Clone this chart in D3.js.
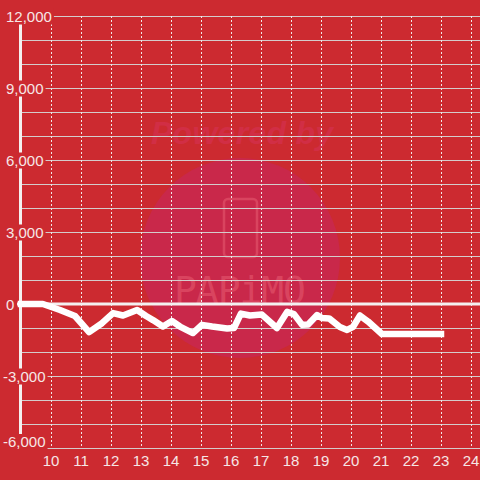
<!DOCTYPE html>
<html>
  <head>
    <meta charset="utf-8">
    <title>差枚数グラフ</title>
    <script src="https://d3js.org/d3.v7.min.js"></script>
    <style>
      html, body { margin: 0; padding: 0; background: #cc2a30; }
      svg { display: block; }
    </style>
  </head>
  <body>
    <div id="chart"></div>
    <script>
      // time of day (decimal hours) and running balance
      const hours = [9.0, 9.73, 10.3, 10.8, 11.27, 11.7, 12.07, 12.4, 12.87, 13.17, 13.4, 13.73,
        14.03, 14.3, 14.73, 15.03, 15.37, 15.87, 16.1, 16.33, 16.63, 17.03, 17.53, 17.87,
        18.1, 18.37, 18.57, 18.87, 19.03, 19.27, 19.63, 19.87, 20.07, 20.3, 20.57, 21.03, 23.0];
      const values = [0, 0, -250, -500, -1170, -800, -380, -480, -250, -500, -670, -940,
        -710, -940, -1210, -870, -940, -1020, -1000, -400, -480, -440, -1000, -330,
        -420, -870, -850, -460, -580, -600, -960, -1080, -950, -480, -730, -1250, -1250];
      const yTicks = [12000, 9000, 6000, 3000, 0, -3000, -6000];
      const yGrid = d3.range(-6000, 12001, 1000);
      const xTicks = d3.range(10, 25);

      const width = 480, height = 480;
      const bg = "#cc2a30";
      const textColor = "#f6e6e6";

      const svg = d3.select("#chart").append("svg")
        .attr("width", width)
        .attr("height", height);

      const x = d3.scaleLinear().domain([9, 24.3]).range([21, 480]);
      const y = d3.scaleLinear().domain([-6000, 12000]).range([448, 16]);

      svg.append("rect").attr("width", width).attr("height", height).attr("fill", bg);

      // watermark
      const wm = svg.append("g");
      wm.append("text")
        .attr("x", 242).attr("y", 144)
        .attr("text-anchor", "middle")
        .attr("font-family", "Liberation Sans, Arial, sans-serif")
        .attr("font-size", 32).attr("font-weight", "bold").attr("font-style", "italic")
        .attr("textLength", 182)
        .attr("fill", "#d6325a").attr("opacity", 0.5)
        .text("Powered by");
      wm.append("circle")
        .attr("cx", 240).attr("cy", 258).attr("r", 100)
        .attr("fill", "#c9284a");
      wm.append("rect")
        .attr("x", 224).attr("y", 199).attr("width", 33).attr("height", 58).attr("rx", 4)
        .attr("fill", "none").attr("stroke", "#d9445f").attr("stroke-width", 2.5);
      wm.append("text")
        .attr("x", 240).attr("y", 303)
        .attr("text-anchor", "middle")
        .attr("font-family", "DejaVu Sans Mono, monospace")
        .attr("font-size", 38)
        .attr("textLength", 132)
        .attr("fill", "#d9445f")
        .text("PAPiMO");

      // horizontal grid
      svg.append("g").selectAll("line")
        .data(yGrid)
        .join("line")
          .attr("x1", 21).attr("x2", width)
          .attr("y1", d => y(d) + 0.5).attr("y2", d => y(d) + 0.5)
          .attr("stroke", "#d4cccc").attr("stroke-width", 1);

      // vertical dashed grid
      svg.append("g").selectAll("line")
        .data(xTicks)
        .join("line")
          .attr("x1", d => x(d) + 0.5).attr("x2", d => x(d) + 0.5)
          .attr("y1", y(12000)).attr("y2", y(-6000))
          .attr("stroke", "#f0e8e8").attr("stroke-width", 1)
          .attr("stroke-dasharray", "2,2");

      // y axis line and zero line
      svg.append("line")
        .attr("x1", 20.5).attr("x2", 20.5)
        .attr("y1", y(12000)).attr("y2", y(-6000))
        .attr("stroke", "#f4f0f0").attr("stroke-width", 3);
      svg.append("line")
        .attr("x1", 17).attr("x2", width)
        .attr("y1", y(0)).attr("y2", y(0))
        .attr("stroke", "#f4f0f0").attr("stroke-width", 3);

      // y labels with background boxes (bottom one kept inside the plot)
      const yl = svg.append("g").selectAll("g")
        .data(yTicks)
        .join("g");
      yl.append("text")
        .attr("x", d => d < 0 ? 3 : 6)
        .attr("y", d => Math.min(y(d) + 5.5, 447))
        .attr("font-family", "Liberation Sans, Arial, sans-serif")
        .attr("font-size", 15)
        .attr("fill", textColor)
        .text(d => d3.format(",")(d).replace("−", "-"));
      yl.each(function() {
        const g = d3.select(this);
        const b = g.select("text").node().getBBox();
        g.insert("rect", "text")
          .attr("x", b.x - 2).attr("y", b.y + 1)
          .attr("width", b.width + 4).attr("height", b.height - 1)
          .attr("fill", bg);
      });

      // x labels
      svg.append("g").selectAll("text")
        .data(xTicks)
        .join("text")
          .attr("x", d => x(d))
          .attr("y", 466)
          .attr("text-anchor", "middle")
          .attr("font-family", "Liberation Sans, Arial, sans-serif")
          .attr("font-size", 15)
          .attr("fill", textColor)
          .text(d => d);

      // balance line
      const line = d3.line()
        .x((d, i) => x(hours[i]))
        .y(d => y(d));
      svg.append("path")
        .datum(values)
        .attr("d", line)
        .attr("fill", "none")
        .attr("stroke", "#ffffff")
        .attr("stroke-width", 6.5)
        .attr("stroke-linejoin", "round")
        .attr("stroke-linecap", "square");
    </script>
  </body>
</html>
